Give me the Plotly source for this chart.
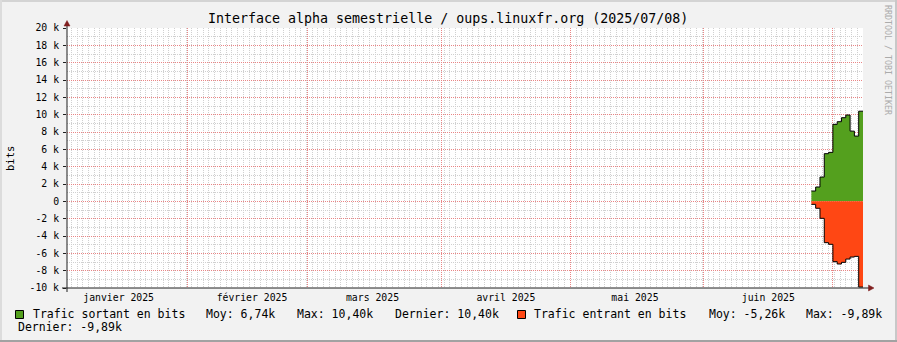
import plotly.graph_objects as go
from datetime import datetime, timedelta

# ---------------- data ----------------
jours = ["2025-06-26", "2025-06-27", "2025-06-28", "2025-06-29", "2025-06-30",
         "2025-07-01", "2025-07-02", "2025-07-03", "2025-07-04", "2025-07-05",
         "2025-07-06", "2025-07-07"]
trafic_sortant = [1190, 1650, 2800, 5500, 5650, 8880, 9190, 9650, 9960, 8100, 7530, 10400]
trafic_entrant = [-350, -800, -1960, -4770, -4960, -6960, -7230, -7040, -6660, -6430, -6350, -9890]

debut_mois = ["2025-01-01", "2025-02-01", "2025-03-01", "2025-04-01",
              "2025-05-01", "2025-06-01", "2025-07-01"]
etiquettes_mois = ["janvier 2025", "février 2025", "mars 2025",
                   "avril 2025", "mai 2025", "juin 2025"]

y_valeurs = [-10000, -8000, -6000, -4000, -2000, 0, 2000, 4000, 6000, 8000,
             10000, 12000, 14000, 16000, 18000, 20000]
y_etiquettes = ["-10 k", "-8 k", "-6 k", "-4 k", "-2 k", "0", "2 k", "4 k", "6 k",
                "8 k", "10 k", "12 k", "14 k", "16 k", "18 k", "20 k"]

noms_series = ["Trafic sortant en bits", "Trafic entrant en bits"]
stats_sortant = ["Moy: 6,74k", "Max: 10,40k", "Dernier: 10,40k"]
stats_entrant = ["Moy: -5,26k", "Max: -9,89k", "Dernier: -9,89k"]
titre = "Interface alpha semestrielle / oups.linuxfr.org (2025/07/08)"
unite = "bits"
filigrane = "RRDTOOL / TOBI OETIKER"
debut_periode = "2025-01-04"
fin_periode = "2025-07-08"

# ---------------- styles ----------------
W, H = 897, 342
L, R, T, B = 67, 34, 28, 54
PW, PH = W - L - R, H - T - B
FONT = "DejaVu Sans Mono"
VERT = "#54A01E"
ROUGE = "#FF4714"
GRID = "#D0D0D0"
MGRID = "#E98585"
AXE = "#1F1F1F"
FLECHE = "#801F1F"


def px(x):
    return (x - L) / PW


def py(y):
    return (H - B - y) / PH


# step traces need a closing point one day after the last sample
x_ext = jours + [(datetime.fromisoformat(jours[-1]) + timedelta(days=1)).strftime("%Y-%m-%d")]
sortant_ext = trafic_sortant + [trafic_sortant[-1]]
entrant_ext = trafic_entrant + [trafic_entrant[-1]]

pos_etiquettes = [(datetime.fromisoformat(d) + timedelta(days=15)).strftime("%Y-%m-%d")
                  for d in debut_mois[:len(etiquettes_mois)]]

fig = go.Figure()
fig.add_trace(go.Scatter(x=x_ext, y=sortant_ext, mode="lines",
                         line=dict(shape="hv", color="black", width=1),
                         fill="tozeroy", fillcolor=VERT, hoverinfo="skip",
                         showlegend=False))
fig.add_trace(go.Scatter(x=x_ext, y=entrant_ext, mode="lines",
                         line=dict(shape="hv", color="black", width=1),
                         fill="tozeroy", fillcolor=ROUGE, hoverinfo="skip",
                         showlegend=False))
# empty carrier trace so that the label axis (x2) is created
fig.add_trace(go.Scatter(x=pos_etiquettes, y=[None] * len(pos_etiquettes), xaxis="x2",
                         mode="lines", hoverinfo="skip", showlegend=False))

annotations = []
annotations.append(dict(text=titre, x=px(448), y=py(19), xref="paper", yref="paper",
                        xanchor="center", yanchor="middle", showarrow=False,
                        font=dict(family=FONT, size=13.3, color="black")))
annotations.append(dict(text=unite, x=px(10), y=py(158), xref="paper", yref="paper",
                        xanchor="center", yanchor="middle", showarrow=False, textangle=-90,
                        font=dict(family=FONT, size=10.5, color="black")))
annotations.append(dict(text=filigrane, x=px(888), y=py(60), xref="paper", yref="paper",
                        xanchor="center", yanchor="middle", showarrow=False, textangle=90,
                        font=dict(family=FONT, size=8.3, color="#ABABAB")))

leg_font = dict(family=FONT, size=11.5, color="black")
ligne1 = [(30.7, noms_series[0]), (204, stats_sortant[0]), (295, stats_sortant[1]),
          (393.3, stats_sortant[2]), (532.3, noms_series[1]), (706.7, stats_entrant[0]),
          (804, stats_entrant[1])]
for xx, txt in ligne1:
    annotations.append(dict(text=txt, x=px(xx), y=py(314), xref="paper", yref="paper",
                            xanchor="left", yanchor="middle", showarrow=False, font=leg_font))
annotations.append(dict(text=stats_entrant[2], x=px(16), y=py(327), xref="paper", yref="paper",
                        xanchor="left", yanchor="middle", showarrow=False, font=leg_font))

shapes = []
# frame shading
shapes.append(dict(type="rect", xref="paper", yref="paper", x0=px(0), x1=px(W), y0=py(0), y1=py(2),
                   fillcolor="#D4D4D4", line=dict(width=0), layer="above"))
shapes.append(dict(type="rect", xref="paper", yref="paper", x0=px(0), x1=px(2), y0=py(0), y1=py(H),
                   fillcolor="#DCDCDC", line=dict(width=0), layer="above"))
shapes.append(dict(type="rect", xref="paper", yref="paper", x0=px(W - 2), x1=px(W), y0=py(0), y1=py(H),
                   fillcolor="#C8C8C8", line=dict(width=0), layer="above"))
shapes.append(dict(type="rect", xref="paper", yref="paper", x0=px(0), x1=px(W), y0=py(H - 2), y1=py(H),
                   fillcolor="#A2A2A2", line=dict(width=0), layer="above"))
# swatches
shapes.append(dict(type="rect", xref="paper", yref="paper", x0=px(15.5), x1=px(23.5),
                   y0=py(310.5), y1=py(318.5), fillcolor=VERT, line=dict(color="black", width=1)))
shapes.append(dict(type="rect", xref="paper", yref="paper", x0=px(517.5), x1=px(525.5),
                   y0=py(310.5), y1=py(318.5), fillcolor=ROUGE, line=dict(color="black", width=1)))
# axes
shapes.append(dict(type="line", xref="paper", yref="paper", x0=px(62), x1=px(869), y0=py(288), y1=py(288),
                   line=dict(color=AXE, width=1), layer="above"))
shapes.append(dict(type="line", xref="paper", yref="paper", x0=px(67), x1=px(67), y0=py(292), y1=py(23),
                   line=dict(color=AXE, width=1), layer="above"))
# arrows
shapes.append(dict(type="path", xref="paper", yref="paper",
                   path=f"M {px(64)} {py(26)} L {px(67)} {py(20.5)} L {px(70)} {py(26)} Z",
                   fillcolor=FLECHE, line=dict(color=FLECHE, width=0.5), layer="above"))
shapes.append(dict(type="path", xref="paper", yref="paper",
                   path=f"M {px(868.5)} {py(285)} L {px(874)} {py(288)} L {px(868.5)} {py(291)} Z",
                   fillcolor=FLECHE, line=dict(color=FLECHE, width=0.5), layer="above"))

fig.update_layout(
    width=W, height=H,
    margin=dict(l=L, r=R, t=T, b=B, pad=0),
    paper_bgcolor="#F2F2F2", plot_bgcolor="white",
    font=dict(family=FONT, size=9.8, color="black"),
    showlegend=False,
    xaxis=dict(type="date", range=[debut_periode, fin_periode], autorange=False,
               tickmode="array", tickvals=debut_mois, showticklabels=False, ticks="",
               showgrid=True, gridcolor=MGRID, gridwidth=1, griddash="1px,1px",
               zeroline=False, showline=False, fixedrange=True,
               minor=dict(tickmode="linear", tick0="2025-03-02", dtick=115200000,
                          showgrid=True, gridcolor=GRID, gridwidth=1, griddash="1px,1px")),
    xaxis2=dict(type="date", range=[debut_periode, fin_periode], autorange=False,
                overlaying="x", anchor="y", side="bottom",
                tickmode="array", tickvals=pos_etiquettes, ticktext=etiquettes_mois,
                ticks="", ticklabelstandoff=2,
                showgrid=False, zeroline=False, showline=False, fixedrange=True,
                tickfont=dict(family=FONT, size=9.8, color="black")),
    yaxis=dict(range=[-10000, 20000], autorange=False, tickmode="array",
               tickvals=y_valeurs, ticktext=y_etiquettes,
               ticks="outside", ticklen=3, tickcolor=AXE, tickwidth=1,
               ticklabelstandoff=2,
               showgrid=True, gridcolor=MGRID, gridwidth=1, griddash="1px,1px",
               zeroline=False, showline=False, fixedrange=True,
               tickfont=dict(family=FONT, size=9.8, color="black"),
               minor=dict(tickmode="linear", tick0=0, dtick=1000, showgrid=True,
                          gridcolor=GRID, gridwidth=1, griddash="1px,1px")),
    annotations=annotations,
    shapes=shapes,
)

fig.write_html("out.html")
